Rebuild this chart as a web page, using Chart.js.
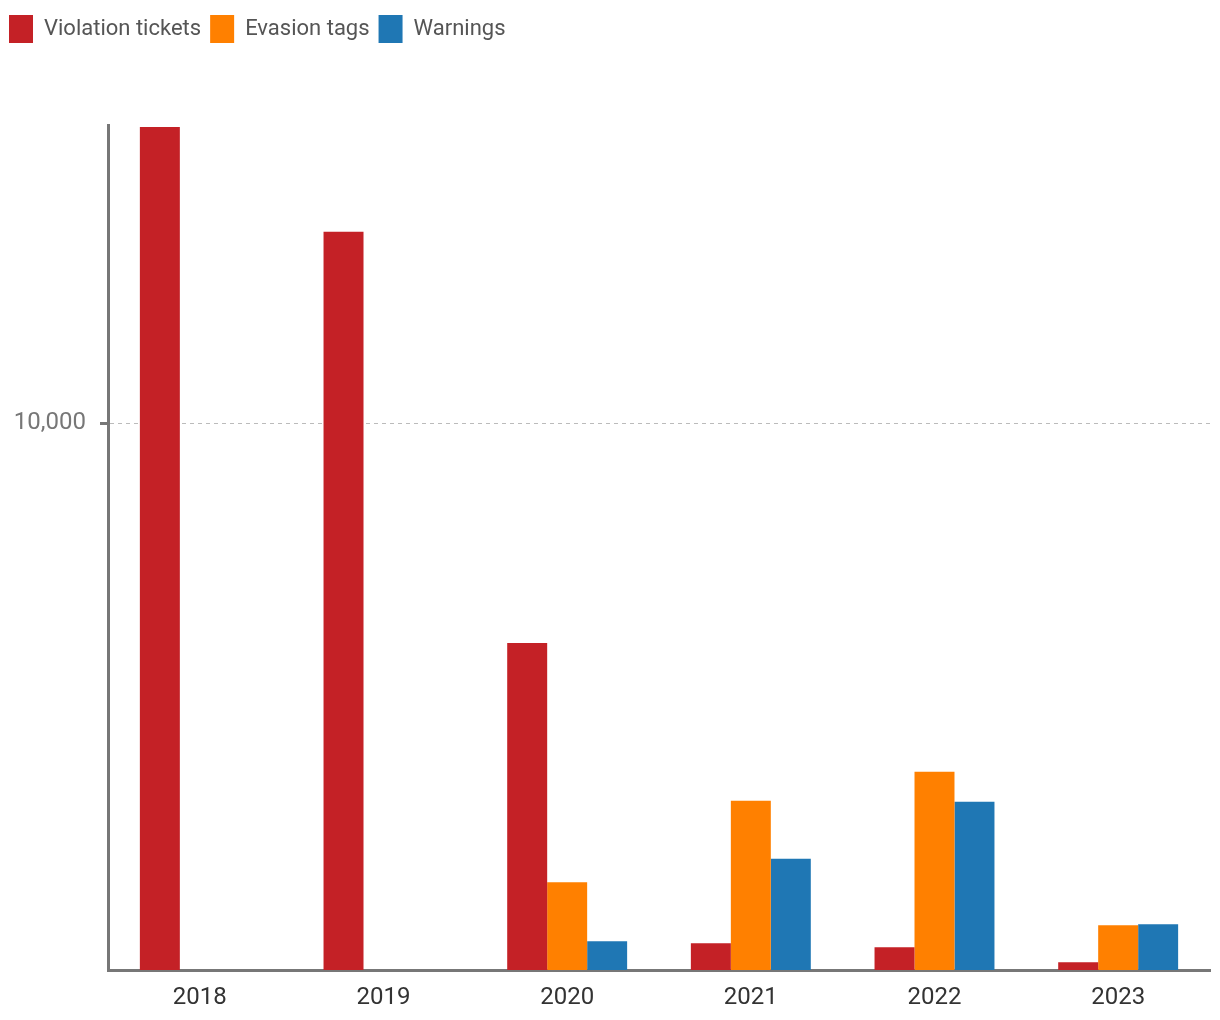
<!DOCTYPE html>
<html>
<head>
<meta charset="utf-8">
<script src="https://cdn.jsdelivr.net/npm/chart.js@4"></script>
<style>
  html, body { margin: 0; padding: 0; background: #fff; }
  #wrap { width: 1220px; height: 1020px; position: relative; }
</style>
</head>
<body>
<div id="wrap"><canvas id="chart"></canvas></div>
<script>
// data
const years = ['2018', '2019', '2020', '2021', '2022', '2023'];
const violationTickets = [15425, 13507, 5982, 490, 416, 142];
const evasionTags = [0, 0, 1604, 3096, 3626, 818];
const warnings = [0, 0, 526, 2037, 3078, 837];
const yTicks = [10000];

const FONT = "Roboto, 'Noto Sans', sans-serif";

// legend takes the space above the plot area
const legendSpacer = {
    id: 'legendSpacer',
    beforeInit(chart) {
        const fit = chart.legend.fit;
        chart.legend.fit = function () {
            fit.bind(chart.legend)();
            this.height = 119;
        };
    }
};

new Chart(document.getElementById('chart'), {
    type: 'bar',
    data: {
        labels: years,
        datasets: [
            { label: 'Violation tickets', data: violationTickets, backgroundColor: '#c42126' },
            { label: 'Evasion tags', data: evasionTags, backgroundColor: '#ff8000' },
            { label: 'Warnings', data: warnings, backgroundColor: '#1f77b4' }
        ]
    },
    options: {
        responsive: true,
        maintainAspectRatio: false,
        animation: false,
        layout: { padding: { left: 0, right: 10, top: 6, bottom: 0 } },
        datasets: {
            bar: { categoryPercentage: 0.653, barPercentage: 1.0 }
        },
        plugins: {
            legend: {
                position: 'top',
                align: 'start',
                labels: {
                    boxWidth: 24,
                    boxHeight: 28,
                    padding: 9,
                    color: '#555',
                    font: { family: FONT, size: 22 }
                }
            },
            tooltip: { enabled: false }
        },
        scales: {
            x: {
                grid: { display: false, drawTicks: false },
                border: { display: true, color: '#777', width: 3 },
                ticks: {
                    color: '#333',
                    padding: 14,
                    font: { family: FONT, size: 24 }
                },
                afterFit(scale) { scale.height = 50; }
            },
            y: {
                min: 0,
                max: 15460,
                afterBuildTicks(scale) {
                    scale.ticks = yTicks.map(v => ({ value: v }));
                },
                grid: {
                    color: '#bbb',
                    lineWidth: 1,
                    tickColor: '#777',
                    tickWidth: 3,
                    tickLength: 8,
                    tickBorderDash: []
                },
                border: { display: true, color: '#777', width: 3, dash: [4, 4] },
                ticks: {
                    color: '#777',
                    padding: 14,
                    font: { family: FONT, size: 24 },
                    callback: (v) => v.toLocaleString('en-US')
                },
                afterFit(scale) { scale.width = 108; }
            }
        }
    },
    plugins: [legendSpacer]
});
</script>
</body>
</html>
